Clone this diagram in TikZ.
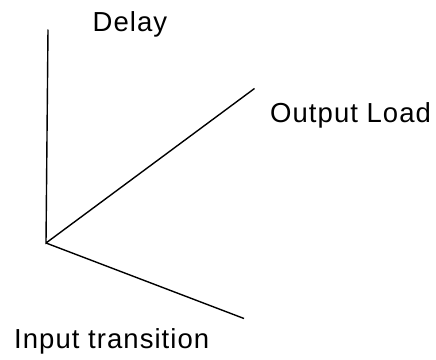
\documentclass[tikz,border=0pt]{standalone}
\usepackage{fontspec}
\setmainfont{Liberation Sans}[LetterSpace=3.8]
\begin{document}
\begin{tikzpicture}[x=1pt,y=-1pt,
  axis/.style={line width=1.4pt, line cap=butt},
  lbl/.style={anchor=base west, inner sep=0pt, font=\fontsize{27.5}{32}\selectfont}]
\useasboundingbox (0,0) rectangle (436,359);
\coordinate (O) at (46,243);
\coordinate (D) at (48,29.5);
\coordinate (L) at (254.5,88.5);
\coordinate (T) at (244,318.5);
\draw[axis] (D) -- (O) -- (L);
\draw[axis] (O) -- (T);
\node[lbl] (dl) at (92.5,31.5) {Delay};
\node[lbl] (ol) at (270,122) {Output Load};
\node[lbl] (il) at (14,348) {Input transition};
\end{tikzpicture}
\end{document}
